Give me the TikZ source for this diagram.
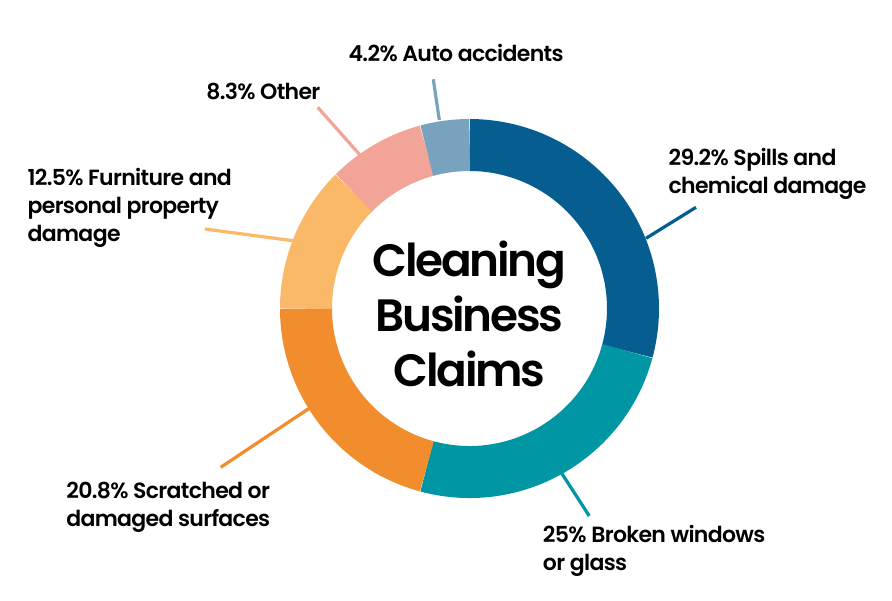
\documentclass[tikz,border=0pt]{standalone}
\usepackage{fontspec}
\newfontfamily\claimfont{Poppins SemiBold}[LetterSpace=-3]
\newfontfamily\claimtitlefont{Poppins SemiBold}[LetterSpace=-5]
\definecolor{clrspills}{HTML}{065D8F}
\definecolor{clrbroken}{HTML}{0096A4}
\definecolor{clrscratch}{HTML}{F28D2E}
\definecolor{clrfurniture}{HTML}{F9B968}
\definecolor{clrother}{HTML}{F2A499}
\definecolor{clrauto}{HTML}{78A2BD}
\tikzset{
  ringpart/.style={line width=39pt},
  leader/.style={line width=2.4pt},
  claimlabel/.style={anchor=base west, align=left, inner sep=0pt,
    font=\claimfont\fontsize{16.5}{21}\selectfont},
  claimtitle/.style={anchor=base, align=center, inner sep=0pt,
    font=\claimtitlefont\fontsize{34}{41.25}\selectfont},
}

\begin{document}
\begin{tikzpicture}[x=0.75pt,y=0.75pt]
			%%%%% START %%%%%
			\useasboundingbox (0,0) rectangle (892,600);
			\coordinate (mid) at (469.5,291.5);
			
			% ring, clockwise from the top
			\draw[ringpart, clrspills] (mid) ++(90:163.5) arc (90:-15.12:163.5);
			\draw[ringpart, clrbroken] (mid) ++(-15.12:163.5) arc (-15.12:-105.12:163.5);
			\draw[ringpart, clrscratch] (mid) ++(-105.12:163.5) arc (-105.12:-180:163.5);
			\draw[ringpart, clrfurniture] (mid) ++(180:163.5) arc (180:135:163.5);
			\draw[ringpart, clrother] (mid) ++(135:163.5) arc (135:105.12:163.5);
			\draw[ringpart, clrauto] (mid) ++(105.12:163.5) arc (105.12:90:163.5);
			
			% base of a node with several lines is its last line
			\node[claimtitle] (title) at (469.5,213.3) {Cleaning\\Business\\Claims};
			
			% labels
			\node[claimlabel] (autolbl) at (348.3,538.3) {4.2\% Auto accidents};
			\node[claimlabel] (otherlbl) at (206,500.7) {8.3\% Other};
			\node[claimlabel] (spillslbl) at (668.3,406.7) {29.2\% Spills and\\chemical damage};
			\node[claimlabel] (furnlbl) at (27.3,358.3) {12.5\% Furniture and\\personal property\\damage};
			\node[claimlabel] (scratchlbl) at (66,73.3) {20.8\% Scratched or\\damaged surfaces};
			\node[claimlabel] (brokenlbl) at (542.7,30) {25\% Broken windows\\or glass};
			
			% leader lines
			\coordinate (autoA) at (439.3,480);
			\coordinate (autoB) at (433.3,520.7);
			\coordinate (otherA) at (360,445);
			\coordinate (otherB) at (317.7,492.7);
			\coordinate (spillsA) at (646,361.7);
			\coordinate (spillsB) at (696,392.7);
			\coordinate (furnA) at (292.7,359.3);
			\coordinate (furnB) at (205,371);
			\coordinate (scratchA) at (309.3,191.7);
			\coordinate (scratchB) at (220.7,132.7);
			\coordinate (brokenA) at (561.7,126.7);
			\coordinate (brokenB) at (589.3,84);
			
			\draw[leader, clrauto] (autoA) -- (autoB);
			\draw[leader, clrother] (otherA) -- (otherB);
			\draw[leader, clrspills] (spillsA) -- (spillsB);
			\draw[leader, clrfurniture] (furnA) -- (furnB);
			\draw[leader, clrscratch] (scratchA) -- (scratchB);
			\draw[leader, clrbroken] (brokenA) -- (brokenB);
			%%%%% END %%%%%
\end{tikzpicture}
\end{document}
